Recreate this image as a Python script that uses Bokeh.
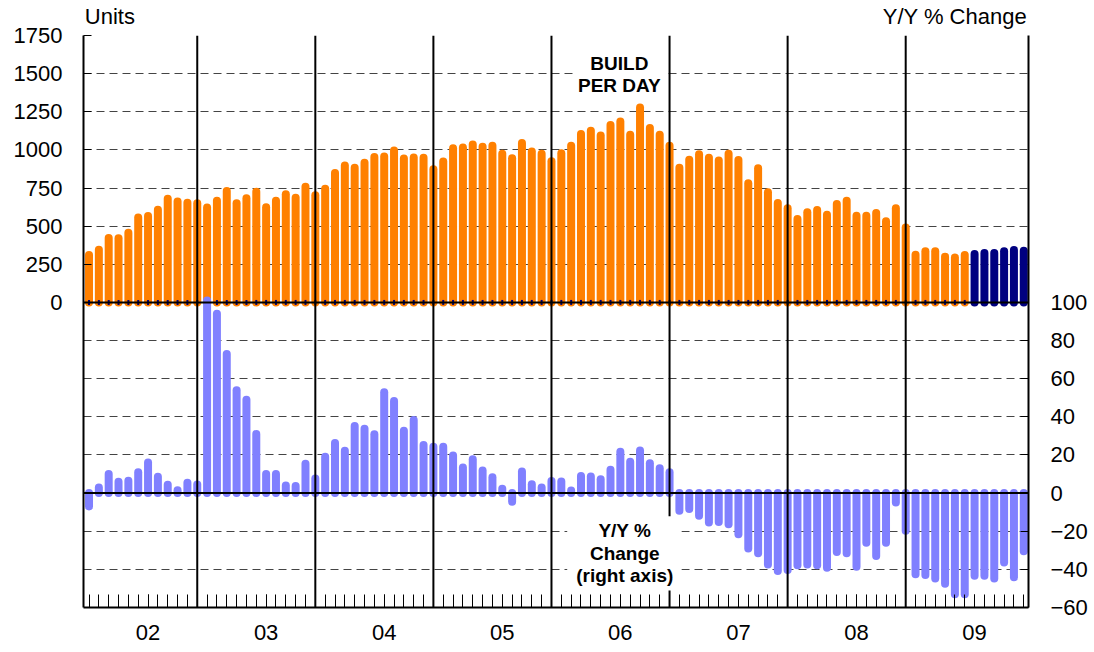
import math
from bokeh.plotting import figure
from bokeh.models import Range1d, LinearAxis, FixedTicker, Span, Label, Grid, BoxAnnotation
from bokeh.embed import file_html
from bokeh.resources import INLINE

# ---------------- data ----------------
years = ["02", "03", "04", "05", "06", "07", "08", "09"]

# Build per day (units), Jan 2002 .. Jun 2009 (actual)
build_actual = [
    311, 346, 422, 420, 457, 557, 567, 607, 680, 661, 654, 650,        # 2002
    622, 667, 730, 650, 683, 726, 624, 667, 709, 687, 759, 702,        # 2003
    746, 848, 898, 883, 915, 954, 957, 996, 944, 950, 949, 873,        # 2004
    924, 1011, 1015, 1035, 1020, 1028, 974, 946, 1046, 989, 974, 926,  # 2005
    978, 1028, 1104, 1126, 1094, 1163, 1187, 1100, 1278, 1144, 1100, 1028,  # 2006
    883, 935, 972, 948, 930, 974, 934, 781, 880, 722, 652, 617,        # 2007
    547, 591, 606, 575, 645, 667, 569, 569, 586, 532, 617, 492,        # 2008
    313, 335, 335, 300, 295, 311,                                      # 2009 H1
]
# Build per day, Jul 2009 .. Dec 2009 (forecast)
build_forecast = [317, 324, 324, 335, 344, 339]

# Y/Y % change (right axis), Jan 2002 .. Dec 2009
yoy = [
    -7, 3, 10, 6, 6.5, 11, 16, 8.6, 4.4, 1.5, 5.4, 4.5,
    101, 94, 73, 54, 49, 31, 10, 10, 4, 3.7, 15.4, 7.6,
    19, 26.3, 22.2, 35.2, 33.8, 30.9, 52.9, 48.3, 32.7, 38.3, 25.2, 24.3,
    24.3, 19.7, 13.4, 17.7, 11.8, 8.3, 2.3, -4.5, 11.3, 4.7, 3.0, 6.4,
    6.1, 1.4, 9.0, 8.7, 7.3, 12.3, 21.7, 16.5, 22.3, 15.7, 13.0, 11.0,
    -9.2, -8.4, -11.9, -15.4, -15.1, -16.3, -21.6, -29.1, -31.6, -37.4, -40.9, -40.3,
    -37.9, -37.4, -37.9, -39.1, -30.9, -31.6, -38.6, -26.0, -33.0, -26.0, -4.9, -19.8,
    -42.5, -43.0, -44.8, -47.5, -53.1, -53.0, -43.3, -43.4, -44.8, -36.4, -44.2, -30.5,
]

left_ticks = [0, 250, 500, 750, 1000, 1250, 1500, 1750]
right_ticks = [-60, -40, -20, 0, 20, 40, 60, 80, 100]
left_title = "Units"
right_title = "Y/Y % Change"

# ---------------- derived ----------------
n = len(build_actual) + len(build_forecast)
months = list(range(n))
x_act = months[:len(build_actual)]
x_fc = months[len(build_actual):]
label_pos = [6 + 12 * i for i in range(len(years))]

FONT = "Liberation Sans"
FS = "22px"
ORANGE = "#FF8000"
NAVY = "#000080"
PURPLE = "#8080FF"

p = figure(width=1090, height=652,
           x_range=Range1d(-0.56, 95.48), y_range=Range1d(-2000, 1750),
           output_backend="svg", toolbar_location=None,
           min_border_left=83, min_border_right=60, min_border_top=35, min_border_bottom=45)
p.extra_y_ranges = {"yy": Range1d(-60, 240)}
p.outline_line_color = None
p.xgrid.visible = False
p.ygrid.visible = False
p.background_fill_color = "white"
p.border_fill_color = "white"

# dashed horizontal grid (shared pixel spacing for both scales)
dash_levels = [v for v in range(-1750, 1751, 250) if v not in (0, -1250)]
grid = Grid(dimension=1, ticker=FixedTicker(ticks=dash_levels),
            grid_line_color="#444444", grid_line_dash="8 5", grid_line_width=1)
p.add_layout(grid)

def style_axis(ax, standoff):
    ax.axis_line_color = "black"
    ax.axis_line_width = 2
    ax.major_tick_line_color = "black"
    ax.major_tick_line_width = 1
    ax.minor_tick_line_color = "black"
    ax.minor_tick_line_width = 1
    ax.major_label_text_font = FONT
    ax.major_label_text_font_size = FS
    ax.major_label_text_color = "black"
    ax.major_label_standoff = standoff

ya = p.yaxis[0]
ya.ticker = FixedTicker(ticks=left_ticks)
ya.major_tick_in = 8
ya.major_tick_out = 0
ya.minor_tick_in = 0
ya.minor_tick_out = 0
style_axis(ya, 21)

yr = LinearAxis(y_range_name="yy", ticker=FixedTicker(ticks=right_ticks))
yr.major_tick_in = 8
yr.major_tick_out = 0
yr.minor_tick_in = 0
yr.minor_tick_out = 0
style_axis(yr, 22)
p.add_layout(yr, "right")

xa = p.xaxis[0]
xa.ticker = FixedTicker(ticks=label_pos, minor_ticks=months)
xa.major_label_overrides = {pos: y for pos, y in zip(label_pos, years)}
xa.major_tick_in = 13
xa.major_tick_out = 0
xa.minor_tick_in = 13
xa.minor_tick_out = 0
style_axis(xa, 17)

# axis titles at the top corners, drawn as a label-only axis above the frame
title_pos = [2.125, 88.0]
ta = LinearAxis(ticker=FixedTicker(ticks=title_pos, minor_ticks=[]))
ta.major_label_overrides = {title_pos[0]: left_title, title_pos[1]: right_title}
ta.axis_line_color = None
ta.major_tick_line_color = None
ta.minor_tick_line_color = None
ta.major_tick_in = 0
ta.major_tick_out = 0
ta.minor_tick_in = 0
ta.minor_tick_out = 0
ta.major_label_text_font = FONT
ta.major_label_text_font_size = FS
ta.major_label_text_color = "black"
ta.major_label_standoff = 7
p.add_layout(ta, "above")

# bars
p.segment(x0=x_act, y0=[0] * len(x_act), x1=x_act, y1=build_actual,
          line_width=8, line_cap="round", line_color=ORANGE)
p.segment(x0=x_fc, y0=[0] * len(x_fc), x1=x_fc, y1=build_forecast,
          line_width=8, line_cap="round", line_color=NAVY)
p.scatter(x=x_act, y=0, marker="dash", angle=math.pi / 2, size=5,
          line_color=NAVY, line_width=2)
p.segment(x0=months, y0=[0] * n, x1=months, y1=yoy, y_range_name="yy",
          line_width=8, line_cap="round", line_color=PURPLE)

# solid zero lines and year separators
p.add_layout(Span(location=0, dimension="width", line_color="black", line_width=2))
p.add_layout(Span(location=0, dimension="width", y_range_name="yy",
                  line_color="black", line_width=2))
for k in range(1, len(years)):
    p.add_layout(Span(location=12 * k - 1, dimension="height",
                      line_color="black", line_width=2))

# white boxes behind the inline labels
p.add_layout(BoxAnnotation(left=49.5, right=58.7, top=1680, bottom=1340,
                           fill_color="white", fill_alpha=1, line_alpha=0))
p.add_layout(BoxAnnotation(left=48.6, right=60.2, top=-1401, bottom=-1888,
                           fill_color="white", fill_alpha=1, line_alpha=0))

def add_label(x, y, text):
    p.add_layout(Label(x=x, y=y, text=text, text_align="center", text_baseline="alphabetic",
                       text_font=FONT, text_font_size="19px",
                       text_font_style="bold", text_color="black"))

add_label(53.9, 1567, "BUILD")
add_label(53.9, 1425, "PER DAY")
add_label(54.45, -1494, "Y/Y %")
add_label(54.45, -1645, "Change")
add_label(54.45, -1789, "(right axis)")

open("out.html", "w").write(file_html(p, INLINE))
